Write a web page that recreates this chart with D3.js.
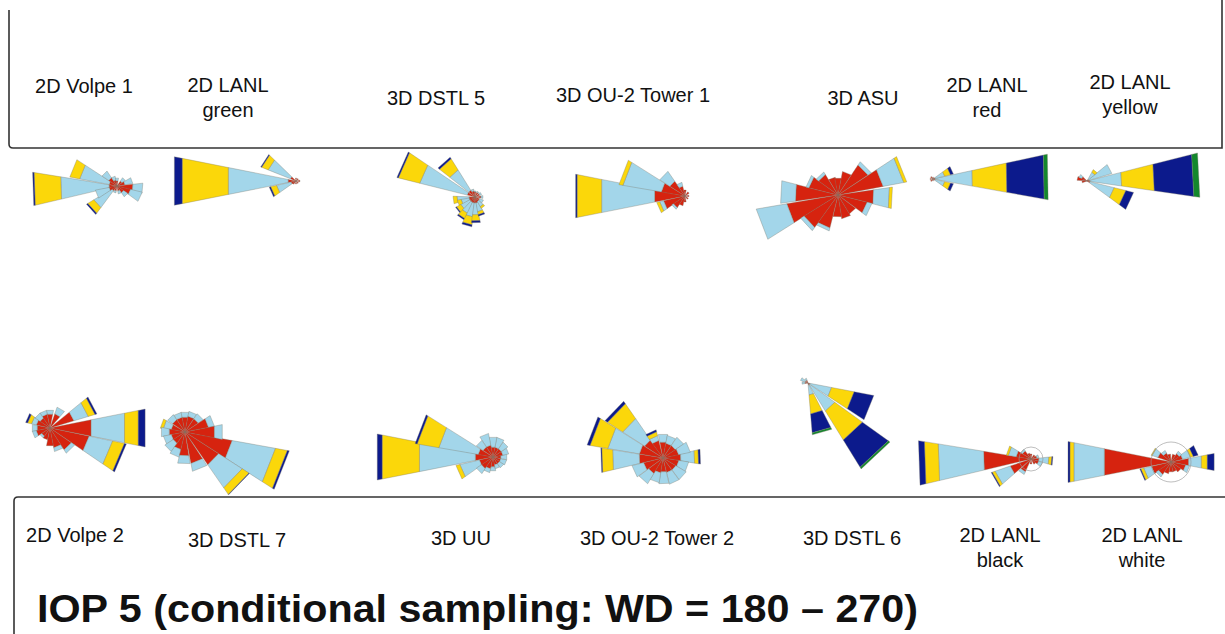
<!DOCTYPE html>
<html><head><meta charset="utf-8">
<script src="https://cdn.jsdelivr.net/npm/d3@7"></script>
<style>
body{margin:0;background:#fff}
svg{display:block}
text{font-family:"Liberation Sans",Arial,sans-serif;fill:#111}
</style>
</head><body>
<svg id="c" width="1225" height="634"></svg>
<script>
// ---------------- DATA ----------------
// speed classes, inner to outer
const speedClasses = ["class 1", "class 2", "class 3", "class 4", "class 5"];
const classColors = ["#d6230f", "#a3d6ea", "#fbd70a", "#0c1a8c", "#13882c"];

// Rose names (label lines)
const roseNames = [
  ["2D Volpe 1"], ["2D LANL", "green"], ["3D DSTL 5"], ["3D OU-2 Tower 1"],
  ["3D ASU"], ["2D LANL", "red"], ["2D LANL", "yellow"],
  ["2D Volpe 2"], ["3D DSTL 7"], ["3D UU"], ["3D OU-2 Tower 2"],
  ["3D DSTL 6"], ["2D LANL", "black"], ["2D LANL", "white"]
];
const titleText = "IOP 5 (conditional sampling: WD = 180 \u2013 270)";

// sectors: [direction (deg), frequency per class (per mille) ...]
const volpe1 = [
  [268, 8, 49, 27, 1.5], [292, 8, 30, 10], [228, 6, 21, 7, 1.5], [248, 8, 14],
  [315, 10, 8], [338, 6, 4], [0, 5, 3], [45, 6, 4], [70, 8, 8], [95, 16, 10],
  [115, 14, 12], [135, 8, 5], [160, 5, 3], [200, 5, 2]
];
const lanlGreen = [
  [270, 8, 61, 47, 8], [303, 6, 24, 7, 1], [246, 5, 15, 6, 1.5],
  [90, 4], [0, 3], [45, 3], [135, 3], [180, 3], [225, 4]
];
const dstl5 = [
  [294, 8, 49, 22, 1.5], [318, 8, 24, 13, 2], [262, 6, 12, 4], [250, 6, 8, 4],
  [232, 6, 10, 5, 1], [214, 6, 12, 6, 1.5], [196, 6, 14, 8, 2], [178, 6, 12, 6, 2],
  [160, 6, 9, 3, 1.5], [142, 5, 6, 2], [120, 5, 4], [90, 6, 2], [60, 5, 2],
  [30, 5, 1], [0, 5, 1], [340, 6, 2]
];
const ou2Tower1 = [
  [270, 31, 54, 25, 1.5], [291, 24, 39, 4], [246, 22, 4, 3], [314, 18, 12],
  [336, 10, 4], [225, 14, 2], [0, 6], [45, 5], [90, 4], [135, 4], [180, 6], [203, 10]
];
const asu = [
  [249, 52, 31], [68, 46, 21, 3], [93, 36, 16, 3], [273, 43, 15],
  [295, 30, 3], [317, 24, 3], [340, 18], [0, 17], [22, 24], [45, 36, 4],
  [115, 30, 5], [138, 22], [160, 24], [182, 22], [205, 34, 3], [227, 40, 4]
];
const lanlRed = [
  [89, 2, 38, 35, 38, 4], [65, 2, 10, 6, 3], [114, 2, 10, 6, 3],
  [270, 3], [225, 3], [315, 3], [0, 2], [180, 2]
];
const lanlYellow = [
  [87, 3, 32, 33, 40, 6], [115, 3, 25, 12, 8], [62, 2, 24], [40, 2, 8, 3],
  [285, 10], [305, 6, 3], [260, 5]
];
const volpe2 = [
  [90, 42, 34, 14, 7], [113, 40, 24, 12, 2], [62, 25, 15, 7, 2], [294, 14, 5, 4, 2],
  [30, 15, 7], [0, 14, 4], [337, 14, 4], [315, 12, 6], [270, 13, 5], [248, 14, 4],
  [225, 10, 2], [203, 12], [180, 18], [158, 20, 4], [136, 26, 4]
];
const dstl7 = [
  [111.5, 48, 44, 12, 2], [134, 40, 28, 8, 0.5], [290, 14, 8, 3], [270, 16, 8],
  [248, 14, 8], [226, 14, 10], [204, 18, 8], [182, 24, 8], [158, 32, 8],
  [315, 15, 6], [338, 15, 5], [0, 15, 5], [22, 16, 5], [45, 16, 6], [68, 24, 6], [90, 30, 8]
];
const uu = [
  [270, 18, 57, 38, 5], [291, 15, 40, 22, 2], [246, 14, 20, 4], [225, 14, 6],
  [203, 12, 4], [180, 10, 4], [158, 8, 4], [135, 8, 5], [113, 8, 6], [90, 8, 6],
  [68, 10, 6], [45, 10, 8], [22, 10, 10], [0, 10, 10], [338, 12, 12], [315, 12, 8]
];
const ou2Tower2 = [
  [314, 22, 26, 18, 3], [291, 24, 32, 18, 3], [268, 24, 27, 11, 1], [335, 18, 5, 4, 2],
  [88, 18, 14, 4, 2], [0, 16, 8], [22, 15, 8], [45, 15, 10], [67, 16, 12],
  [110, 16, 10], [132, 15, 12], [155, 15, 12], [178, 14, 12], [200, 15, 10],
  [222, 18, 12], [245, 20, 12]
];
const dstl6 = [
  [137, 2, 31, 34, 32, 2], [112, 2, 22, 23, 20], [164, 2, 10, 19, 19, 2],
  [300, 3, 5], [270, 3, 3], [330, 3, 2]
];
const lanlBlack = [
  [268, 48, 46, 14, 6], [240, 22, 16, 3, 1], [290, 15, 8, 2], [95, 8, 10, 3, 1],
  [313, 10, 2], [336, 6], [0, 5], [45, 5], [70, 6, 2], [118, 8, 4], [140, 6],
  [180, 5], [215, 14, 3]
];
const lanlWhite = [
  [270, 68, 31, 4, 2], [90, 18, 13, 6, 7], [65, 12, 8, 3, 5], [246, 20, 8, 3, 1],
  [300, 14, 6, 1], [322, 10, 3], [345, 8], [22, 8], [45, 10, 3], [113, 15, 4],
  [135, 12], [158, 10], [180, 10], [203, 12], [225, 15, 3]
];

const roseData = [volpe1, lanlGreen, dstl5, ou2Tower1, asu, lanlRed, lanlYellow,
                  volpe2, dstl7, uu, ou2Tower2, dstl6, lanlBlack, lanlWhite];

// ---------------- LAYOUT ----------------
const roseLayout = [
  {cx:117, cy:186, bin:22.5}, {cx:296, cy:181, bin:22.5}, {cx:475, cy:197, bin:20},
  {cx:685, cy:196, bin:22.5}, {cx:838, cy:195, bin:22.5}, {cx:933, cy:179, bin:22.5},
  {cx:1087, cy:181, bin:22.5},
  {cx:50, cy:428, bin:22.5}, {cx:185, cy:432, bin:22.5}, {cx:493, cy:457, bin:22.5},
  {cx:663, cy:458, bin:22.5}, {cx:808, cy:383, bin:22.5}, {cx:1031, cy:459, bin:22.5, ring:12},
  {cx:1171, cy:462, bin:22.5, ring:20}
];
const labelLayout = [
  {x:84, y:[93]}, {x:228, y:[92,117]}, {x:436, y:[105]}, {x:633, y:[102]},
  {x:863, y:[105]}, {x:987, y:[92,117]}, {x:1130, y:[89,114]},
  {x:75, y:[542]}, {x:237, y:[547]}, {x:461, y:[545]}, {x:657, y:[545]},
  {x:852, y:[545]}, {x:1000, y:[542,567]}, {x:1142, y:[542,567]}
];

// ---------------- DRAW ----------------
const svg = d3.select("#c");
const rScale = d3.scaleLinear().domain([0, 100]).range([0, 100]);
const color = d3.scaleOrdinal().domain(speedClasses).range(classColors);
const toRad = d => d * Math.PI / 180;
const wedge = d3.lineRadial().angle(d => d[0]).radius(d => d[1]).curve(d3.curveLinearClosed);

// frames
svg.append("path").attr("d", "M9,10 V144 Q9,148 13,148 H1222 V0")
  .attr("fill", "none").attr("stroke", "#333").attr("stroke-width", 1.6);
svg.append("path").attr("d", "M1225,497 H18 Q14,497 14,501 V634")
  .attr("fill", "none").attr("stroke", "#333").attr("stroke-width", 1.6);

roseData.forEach((sectors, i) => {
  const L = roseLayout[i];
  const g = svg.append("g").attr("transform", `translate(${L.cx},${L.cy})`);
  sectors.forEach(s => {
    const dir = s[0];
    const a0 = toRad(dir - L.bin / 2), a1 = toRad(dir + L.bin / 2);
    let acc = 0;
    s.slice(1).forEach((v, k) => {
      if (!v) return;
      const r0 = rScale(acc), r1 = rScale(acc + v);
      acc += v;
      g.append("path")
        .attr("d", wedge([[a0, r0], [a0, r1], [a1, r1], [a1, r0]]))
        .attr("fill", color(speedClasses[k]))
        .attr("stroke", "#7a786a").attr("stroke-width", 0.5).attr("stroke-opacity", 0.7);
    });
  });
  if (L.ring) g.append("circle").attr("r", L.ring).attr("fill", "none")
    .attr("stroke", "#999").attr("stroke-width", 0.8).attr("stroke-opacity", 0.8);
});

// labels
roseNames.forEach((lines, i) => {
  const P = labelLayout[i];
  lines.forEach((t, j) => {
    svg.append("text").attr("x", P.x).attr("y", P.y[j])
      .attr("text-anchor", "middle").attr("font-size", 20).text(t);
  });
});

svg.append("text").attr("x", 37).attr("y", 622)
  .attr("font-size", 38).attr("font-weight", "bold")
  .attr("textLength", 881).attr("lengthAdjust", "spacingAndGlyphs").text(titleText);
</script>
</body></html>
